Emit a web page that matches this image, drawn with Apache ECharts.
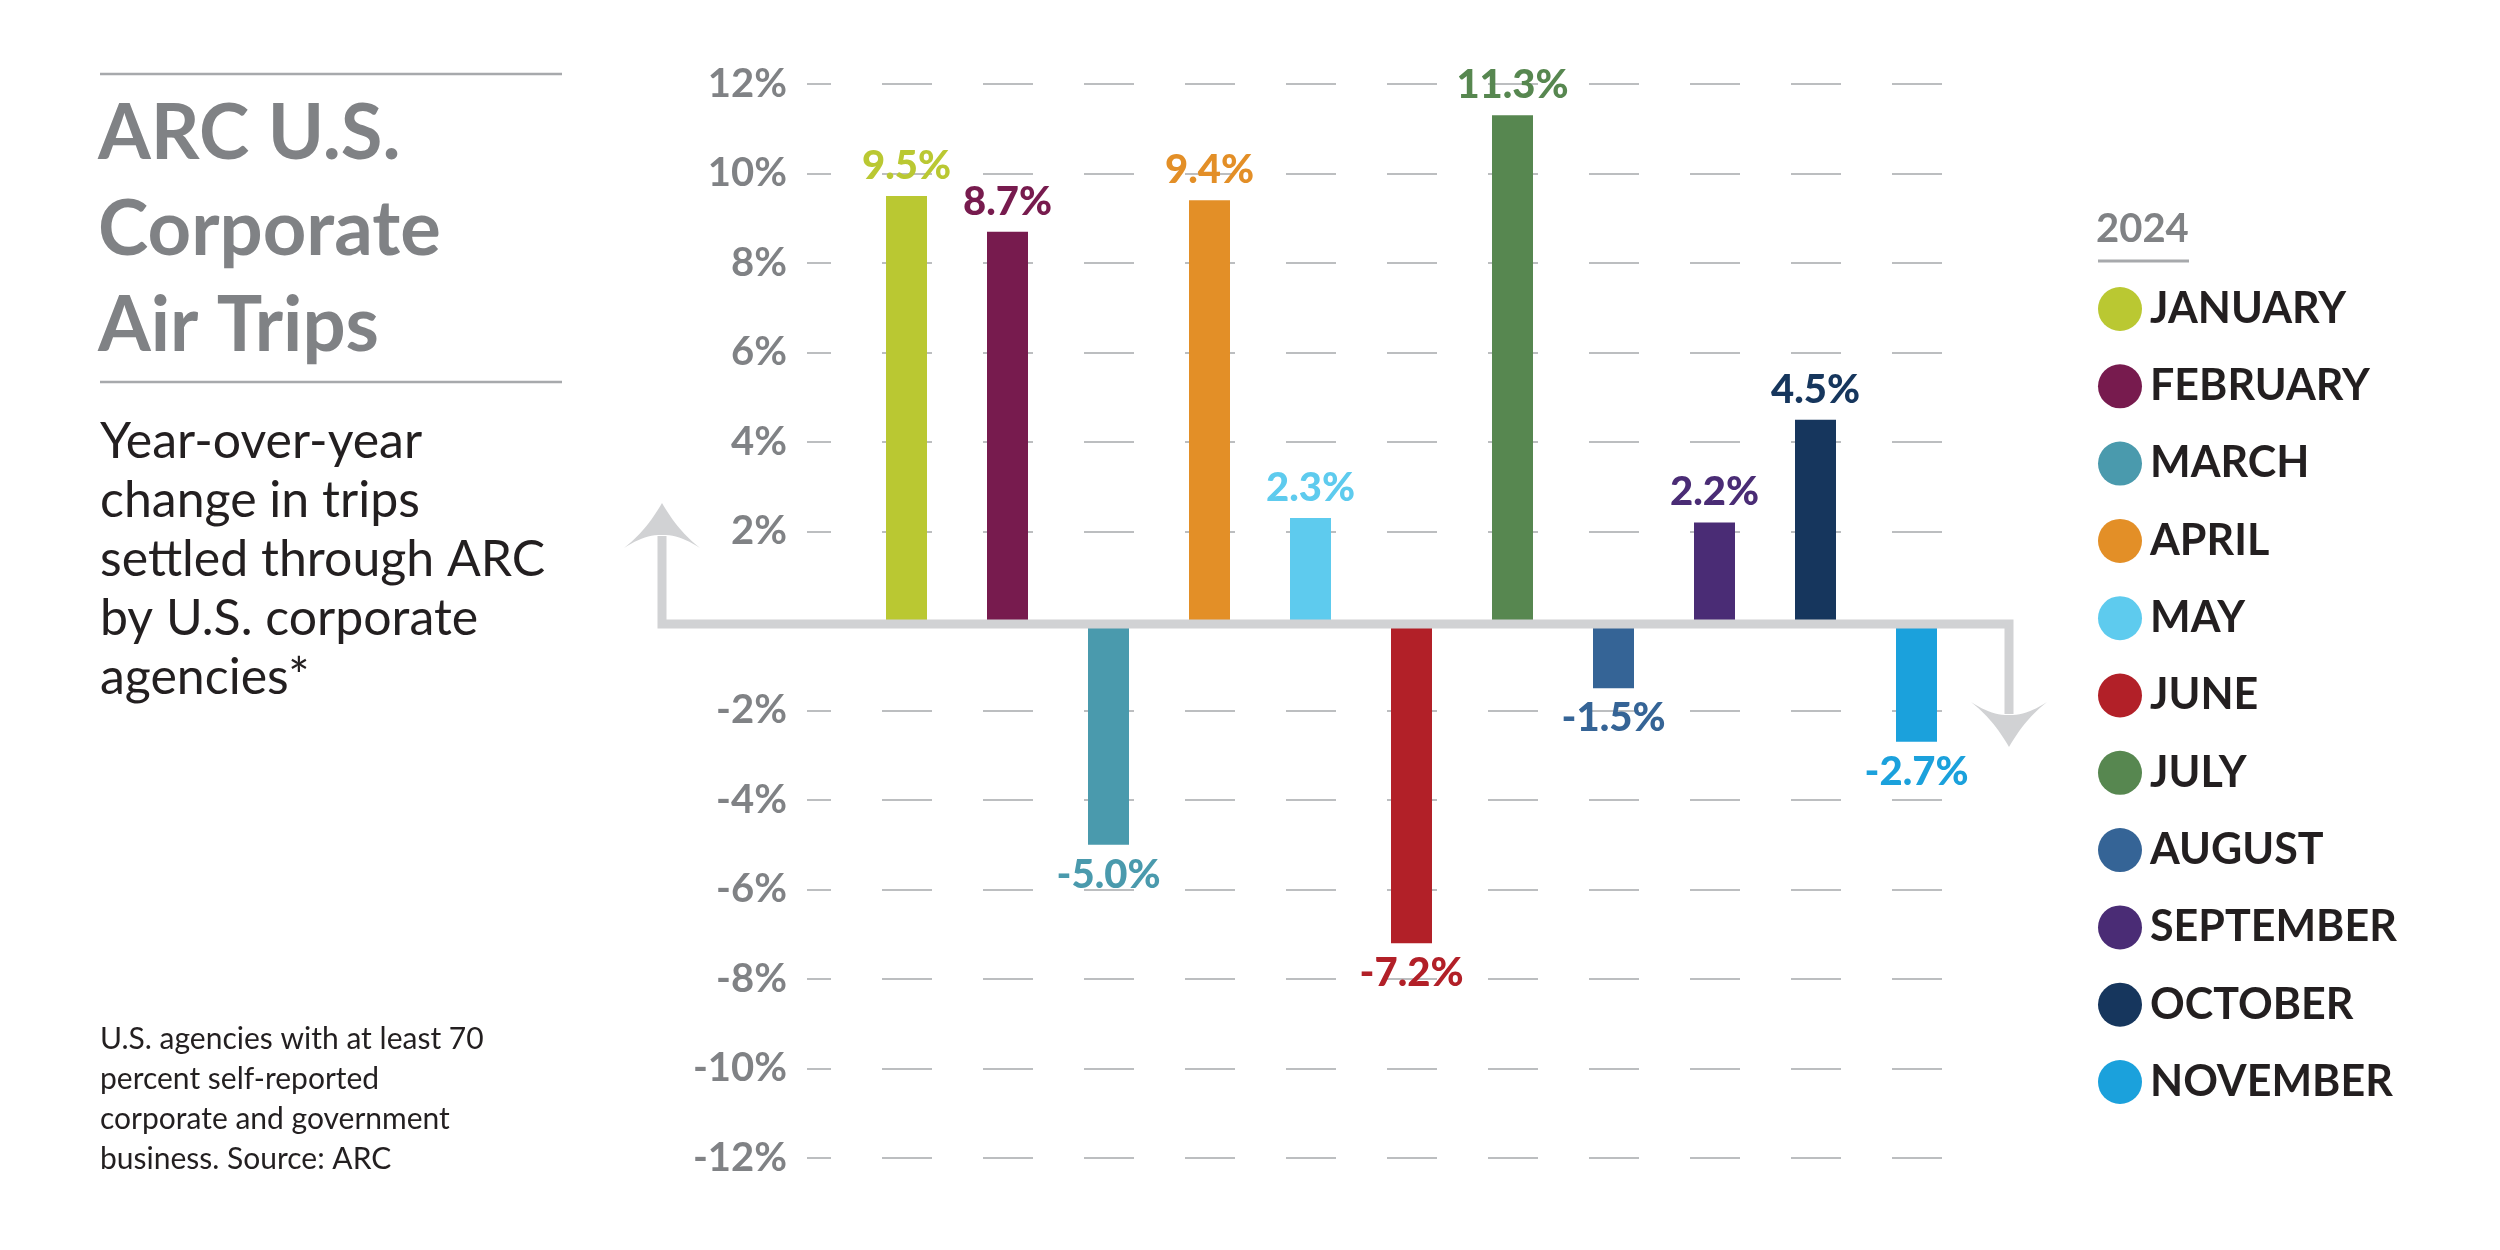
<!DOCTYPE html>
<html>
<head>
<meta charset="utf-8">
<script src="https://cdn.jsdelivr.net/npm/echarts@6/dist/echarts.min.js"></script>
<style>
  html, body { margin: 0; padding: 0; background: #ffffff; }
  #chart { width: 2500px; height: 1250px; }
</style>
</head>
<body>
<div id="chart"></div>
<script>
// ---- data ----
const categories = ['JANUARY', 'FEBRUARY', 'MARCH', 'APRIL', 'MAY', 'JUNE', 'JULY', 'AUGUST', 'SEPTEMBER', 'OCTOBER', 'NOVEMBER'];
const values = [9.5, 8.7, -5.0, 9.4, 2.3, -7.2, 11.3, -1.5, 2.2, 4.5, -2.7];
const colors = ['#bac832', '#771b4e', '#4a9aad', '#e38f27', '#5ecbee', '#b22028', '#578750', '#356496', '#4a2c75', '#16365d', '#1ba1dc'];
const yMin = -12, yMax = 12, yStep = 2;
const legendTitle = '2024';
const titleLines = ['ARC U.S.', 'Corporate', 'Air Trips'];
const subtitleLines = ['Year-over-year', 'change in trips', 'settled through ARC', 'by U.S. corporate', 'agencies*'];
const noteLines = ['U.S. agencies with at least 70', 'percent self-reported', 'corporate and government', 'business. Source: ARC'];

const FONT = 'Lato, "Noto Sans", sans-serif';
const chart = echarts.init(document.getElementById('chart'), null, { renderer: 'canvas' });

const gridTop = 84, gridHeight = 1074;

const series = categories.map((name, i) => ({
  type: 'bar',
  name: name,
  xAxisIndex: 0,
  yAxisIndex: 0,
  barWidth: 41,
  barGap: '-100%',
  silent: true,
  animation: false,
  itemStyle: { color: colors[i] },
  label: {
    show: true,
    position: 'outside',
    distance: 10,
    formatter: () => values[i].toFixed(1) + '%',
    color: colors[i],
    fontFamily: FONT,
    fontWeight: 900,
    fontSize: 40
  },
  data: categories.map((c, j) => (j === i ? values[i] : '-'))
}));

const option = {
  backgroundColor: '#ffffff',
  animation: false,
  textStyle: { fontFamily: FONT },
  grid: [
    { left: 856, top: gridTop, width: 1111, height: gridHeight, containLabel: false, outerBoundsMode: 'none' },
    { left: 807, top: gridTop, width: 1161, height: gridHeight, containLabel: false, outerBoundsMode: 'none' }
  ],
  xAxis: [
    { type: 'category', gridIndex: 0, data: categories, show: false },
    { type: 'value', gridIndex: 1, min: 0, max: 1, show: false }
  ],
  yAxis: [
    { type: 'value', gridIndex: 0, min: yMin, max: yMax, interval: yStep, show: false },
    {
      type: 'value', gridIndex: 1, min: yMin, max: yMax, interval: yStep,
      axisLine: { show: false }, axisTick: { show: false },
      axisLabel: {
        margin: 20,
        color: '#808285',
        fontFamily: FONT,
        fontWeight: 'bold',
        fontSize: 40,
        formatter: v => (v === 0 ? '' : v + '%')
      },
      splitLine: {
        show: true,
        lineStyle: { color: '#bcbec0', width: 2, type: [50, 51], dashOffset: 26 }
      }
    }
  ],
  legend: {
    show: true,
    orient: 'vertical',
    left: 2093,
    top: 282,
    itemWidth: 44,
    itemHeight: 44,
    itemGap: 33.3,
    icon: 'circle',
    selectedMode: false,
    data: categories,
    textStyle: {
      color: '#231f20',
      fontFamily: FONT,
      fontWeight: 'bold',
      fontSize: 43,
      padding: [0, 0, 0, 3]
    }
  },
  series: series
};

chart.setOption(option);

// ---- decorations (positioned from the axis scale) ----
const y0 = chart.convertToPixel({ yAxisIndex: 0 }, 0) + 3;

function quad(p0, c, p1, n) {
  const pts = [];
  for (let k = 0; k <= n; k++) {
    const t = k / n;
    const a = (1 - t) * (1 - t), b = 2 * (1 - t) * t, d = t * t;
    pts.push([a * p0[0] + b * c[0] + d * p1[0], a * p0[1] + b * c[1] + d * p1[1]]);
  }
  return pts;
}
function arrowHead(tx, ty, dir) {
  const local = [].concat(
    quad([0, 0], [16, 28], [38, 45], 16),
    quad([38, 45], [20, 33], [4, 32], 10),
    quad([-4, 32], [-20, 33], [-38, 45], 10),
    quad([-38, 45], [-16, 28], [0, 0], 16)
  );
  return local.map(p => [tx + p[0], ty + dir * p[1]]);
}

const leftX = 662, rightX = 2009;
const leftTip = 503, rightTip = 747;
const axisGray = '#d1d2d4';

const graphics = [
  // title block
  { type: 'line', shape: { x1: 100, y1: 74, x2: 562, y2: 74 }, style: { stroke: '#a7a9ac', lineWidth: 2.5 } },
  { type: 'line', shape: { x1: 100, y1: 382, x2: 562, y2: 382 }, style: { stroke: '#a7a9ac', lineWidth: 2.5 } },
  { type: 'text', x: 98, y: 86, style: { text: titleLines.join('\n'), font: 'bold 76px ' + FONT, fill: '#808285', lineHeight: 96, align: 'left', verticalAlign: 'top' } },
  { type: 'text', x: 100, y: 412, style: { text: subtitleLines.join('\n'), font: '50px ' + FONT, fill: '#231f20', lineHeight: 59, align: 'left', verticalAlign: 'top' } },
  { type: 'text', x: 100, y: 1019, style: { text: noteLines.join('\n'), font: '30px ' + FONT, fill: '#231f20', lineHeight: 40, align: 'left', verticalAlign: 'top' } },
  // legend header
  { type: 'text', x: 2096, y: 229, style: { text: legendTitle, font: 'bold 40px ' + FONT, fill: '#808285', align: 'left', verticalAlign: 'middle' } },
  { type: 'line', shape: { x1: 2098, y1: 261, x2: 2189, y2: 261 }, style: { stroke: '#a7a9ac', lineWidth: 3 } },
  // axis bracket with arrows
  { type: 'polyline', z: 20, shape: { points: [[leftX, leftTip + 33], [leftX, y0], [rightX, y0], [rightX, rightTip - 33]] }, style: { stroke: axisGray, lineWidth: 9, fill: null, lineJoin: 'miter' } },
  { type: 'polygon', z: 20, shape: { points: arrowHead(leftX, leftTip, 1) }, style: { fill: axisGray } },
  { type: 'polygon', z: 20, shape: { points: arrowHead(rightX, rightTip, -1) }, style: { fill: axisGray } }
];

chart.setOption({ graphic: { elements: graphics } });
</script>
</body>
</html>
